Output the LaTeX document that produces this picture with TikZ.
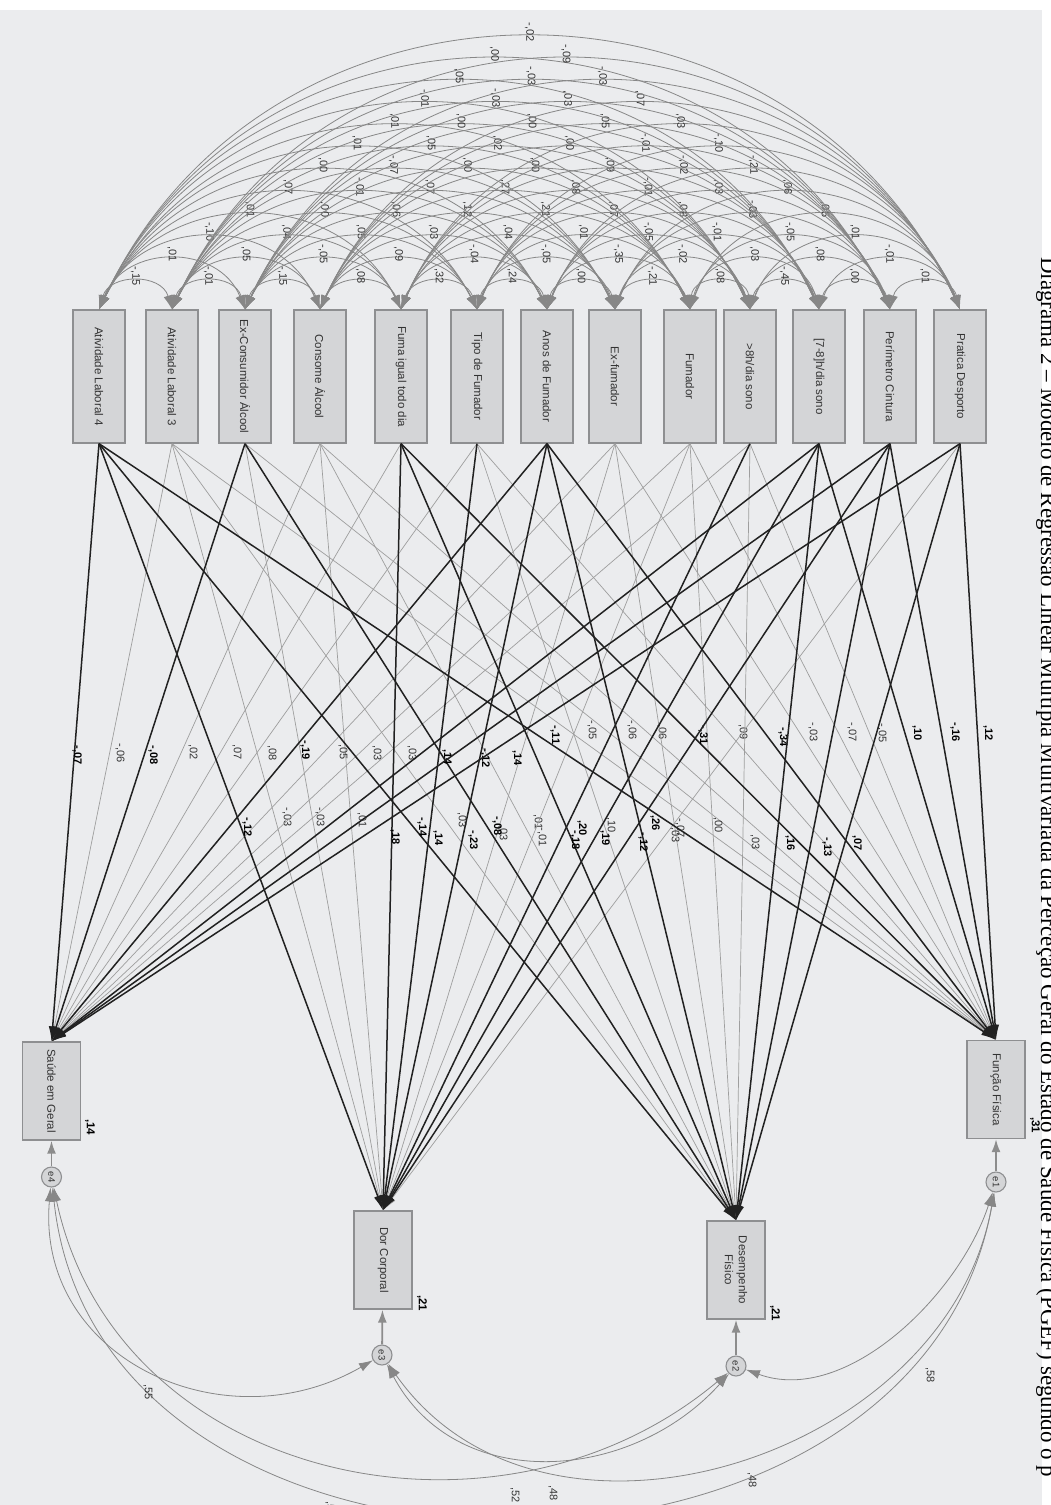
\documentclass[tikz,border=0pt]{standalone}
\usepackage{fontspec}
\setmainfont{Liberation Sans}
\newfontfamily\captionserif{Liberation Serif}
\usetikzlibrary{arrows.meta}
\definecolor{paper}{HTML}{EBECEE}
\definecolor{boxfill}{HTML}{D4D5D7}
\definecolor{boxline}{HTML}{8E8F91}
\colorlet{covgrey}{black!47}
\colorlet{darkpath}{black!87}
\colorlet{lightpath}{black!38}

\begin{document}
\begin{tikzpicture}[x=1pt, y=-1pt,
    obs/.style={draw=boxline, fill=boxfill, line width=1.3pt, minimum width=52pt,
        minimum height=133pt, inner sep=0pt, text=black!80, font=\fontsize{11.5}{14}\selectfont},
    dep/.style={obs, minimum width=58pt, minimum height=98pt},
    err/.style={circle, draw=boxline, fill=boxfill, line width=1.1pt, minimum size=20pt,
        inner sep=0pt, text=black!80, font=\fontsize{9.5}{10}\selectfont},
    cov/.style={draw=covgrey, line width=0.8pt, >={Latex[length=14pt, width=9pt]}, <->},
    ecov/.style={draw=covgrey, line width=0.8pt, >={Latex[length=14pt, width=9pt]}, <->},
    errpath/.style={draw=black!45, line width=1.8pt, >={Latex[length=13pt, width=9pt]}, ->},
    dark/.style={draw=darkpath, line width=1.5pt, >={Latex[length=15pt, width=8pt]}, ->},
    light/.style={draw=lightpath, line width=0.7pt, >={Latex[length=15pt, width=8pt]}, ->},
    lbl/.style={rotate=-90, inner sep=0.5pt, text=black!80, font=\fontsize{11}{12}\selectfont},
    darklbl/.style={lbl, text=black, font=\fontsize{11}{12}\selectfont\bfseries},
    covlbl/.style={yshift=6pt, lbl},
    rsq/.style={rotate=-90, inner sep=0pt, font=\fontsize{11.5}{12}\selectfont\bfseries}
]
\useasboundingbox (0,0) rectangle (1051,1505);
\fill[white] (0,0) rectangle (1051,1505);
\fill[paper] (0,10) rectangle (1042,1505);

\node[rotate=-90, anchor=base west, inner sep=0pt, font=\captionserif\fontsize{23}{25}\selectfont]
    (caption) at (1041,257) {Diagrama 2 – Modelo de Regressão Linear Múltipla Multivariada da Perceção Geral do Estado de Saúde Física (PGEF) segundo o p};

% predictors
\foreach \n/\cx/\name in {1/99/Atividade Laboral 4, 2/172/Atividade Laboral 3,
        3/245/Ex-Consumidor Álcool, 4/320/Consome Álcool, 5/401/Fuma igual todo dia,
        6/477/Tipo de Fumador, 7/547/Anos de Fumador, 8/615/Ex-fumador, 9/690/Fumador,
        10/750/{>8h/dia sono}, 11/819/{[7-8]h/dia sono}, 12/890/Perímetro Cintura,
        13/960/Pratica Desporto}
    \node[obs] (b\n) at (\cx,376.5) {\rotatebox{-90}{\name}};

% outcomes and errors
\node[dep] (sg) at (51.5,1091) {\rotatebox{-90}{Saúde em Geral}};
\node[dep] (dc) at (383,1260) {\rotatebox{-90}{Dor Corporal}};
\node[dep] (df) at (736,1270) {\rotatebox{-90}{\shortstack{Desempenho\\Físico}}};
\node[dep] (ff) at (996,1089.5) {\rotatebox{-90}{Função Física}};
\node[err] (e4) at (51.5,1177) {\rotatebox{-90}{e4}};
\node[err] (e3) at (382,1355) {\rotatebox{-90}{e3}};
\node[err] (e2) at (736,1366) {\rotatebox{-90}{e2}};
\node[err] (e1) at (996,1182) {\rotatebox{-90}{e1}};
\node[rsq] (r2sg) at (90,1127) {,14};
\node[rsq] (r2dc) at (422,1303) {,21};
\node[rsq] (r2df) at (775,1313) {,21};
\node[rsq] (r2ff) at (1035,1125) {,31};
\foreach \e/\d in {e4/sg, e3/dc, e2/df, e1/ff}
    \draw[errpath] (\e) -- (\d);

% correlations between predictors
\def\cxs{{99,172,245,320,401,477,547,615,690,750,819,890,960}}
\foreach \i/\j/\v in {1/2/{-,15}, 2/3/{-,01}, 3/4/{-,15}, 4/5/{,08}, 5/6/{,32}, 6/7/{,24},
        7/8/{,00}, 8/9/{-,21}, 9/10/{,08}, 10/11/{-,45}, 11/12/{,00}, 12/13/{,01},
        1/3/{,01}, 2/4/{,05}, 3/5/{-,05}, 4/6/{,09}, 5/7/{-,04}, 6/8/{-,05}, 7/9/{-,35},
        8/10/{-,02}, 9/11/{,03}, 10/12/{,08}, 11/13/{-,01},
        1/4/{-,10}, 2/5/{,04}, 3/6/{,05}, 4/7/{,03}, 5/8/{,04}, 6/9/{,01}, 7/10/{-,05},
        8/11/{-,01}, 9/12/{-,05}, 10/13/{,01},
        1/5/{,01}, 2/6/{,00}, 3/7/{,06}, 4/8/{,12}, 5/9/{,21}, 6/10/{,07}, 7/11/{,08},
        8/12/{-,03}, 9/13/{,05},
        1/6/{,07}, 2/7/{-,01}, 3/8/{,07}, 4/9/{,27}, 5/10/{,08}, 6/11/{-,01}, 7/12/{,03},
        8/13/{,06},
        1/7/{,00}, 2/8/{-,07}, 3/9/{,00}, 4/10/{,00}, 5/11/{,09}, 6/12/{-,02}, 7/13/{-,21},
        1/8/{,01}, 2/9/{,05}, 3/10/{,02}, 4/11/{,00}, 5/12/{-,01}, 6/13/{-,10},
        1/9/{,01}, 2/10/{,00}, 3/11/{,00}, 4/12/{,05}, 5/13/{,03},
        1/10/{-,01}, 2/11/{-,03}, 3/12/{,03}, 4/13/{,07},
        1/11/{,05}, 2/12/{-,03}, 3/13/{-,03},
        1/12/{,00}, 2/13/{-,09},
        1/13/{-,02}}{
    \pgfmathsetmacro\chord{\cxs[\j-1]-\cxs[\i-1]}
    \pgfmathsetmacro\covtan{2*(5+22.3*(\j-\i))/\chord}
    \pgfmathsetmacro\covang{2*atan(\covtan)}
    \pgfmathsetmacro\covlse{(1+\covtan*\covtan)/1.1745}
    \draw[cov] (b\i.north) to[bend left=\covang, looseness=\covlse]
        node[covlbl] (c\i-\j) {\v} (b\j.north);
}

% regression paths, not significant
\foreach \s/\t/\v/\lx/\ly in {2/sg/{-,06}/120/753, 2/dc/{-,03}/287/817, 2/df/{,03}/462/820,
        2/ff/{-,05}/592/730, 3/dc/{-,03}/320/817, 3/ff/{-,06}/632/730, 4/sg/{,02}/193/752,
        4/dc/{,01}/362/820, 4/df/{,01}/538/822, 4/ff/{,06}/662/732, 5/sg/{,07}/237/752,
        6/sg/{,08}/272/753, 6/df/{,10}/611/825, 6/ff/{,09}/743/732, 8/sg/{,05}/343/752,
        8/dc/{,03}/503/833, 8/df/{-,07}/680/828, 8/ff/{-,03}/813/732, 9/sg/{,03}/377/753,
        9/dc/{-,01}/542/837, 9/df/{,00}/718/825, 9/ff/{-,07}/852/732, 10/sg/{,03}/412/753,
        10/df/{,03}/755/842, 10/ff/{-,05}/882/733, 13/dc/{,03}/675/835}{
    \draw[light] (b\s.south) -- (\t.north);
    \node[lbl] (p\s\t) at (\lx,\ly) {\v};
}
% regression paths, significant
\foreach \s/\t/\v/\lx/\ly in {1/sg/{-,07}/77/755, 1/dc/{-,12}/247/827, 1/df/{-,14}/422/827,
        1/ff/{-,11}/555/735, 3/sg/{-,08}/153/755, 3/df/{-,08}/497/826, 5/dc/{,18}/395/837,
        5/df/{,20}/582/828, 5/ff/{-,31}/703/735, 6/dc/{,14}/438/838, 7/sg/{-,19}/305/750,
        7/dc/{-,23}/473/840, 7/df/{,26}/655/823, 7/ff/{-,34}/783/737, 10/dc/{-,18}/575/840,
        11/sg/{,14}/447/757, 11/dc/{,19}/605/838, 11/df/{,16}/790/843, 11/ff/{,10}/917/733,
        12/sg/{-,12}/485/758, 12/dc/{-,12}/643/842, 12/df/{-,13}/827/847,
        12/ff/{-,16}/955/732, 13/sg/{,14}/517/758, 13/df/{,07}/857/843, 13/ff/{,12}/988/733}{
    \draw[dark] (b\s.south) -- (\t.north);
    \node[darklbl] (p\s\t) at (\lx,\ly) {\v};
}

% error covariances
\draw[ecov] (e4) to[out=-95, in=-150, looseness=1.2] (e3);
\draw[ecov] (e4) to[out=-78, in=-140, looseness=1.1] (e2);
\draw[ecov] (e4) to[out=-84, in=-100, looseness=1.2] (e1);
\draw[ecov] (e3) to[out=-62, in=-132, looseness=1.1] (e2);
\draw[ecov] (e3) to[out=-55, in=-100, looseness=1.1] (e1);
\draw[ecov] (e2) to[out=-20, in=-108, looseness=0.9] (e1);
\node[lbl] (k43) at (148,1392) {,55};
\node[lbl] (k41) at (330,1509) {,55};
\node[lbl] (k42) at (515,1495) {,52};
\node[lbl] (k32) at (553,1493) {,48};
\node[lbl] (k31) at (752,1480) {,48};
\node[lbl] (k21) at (930,1375) {,58};
\end{tikzpicture}
\end{document}
